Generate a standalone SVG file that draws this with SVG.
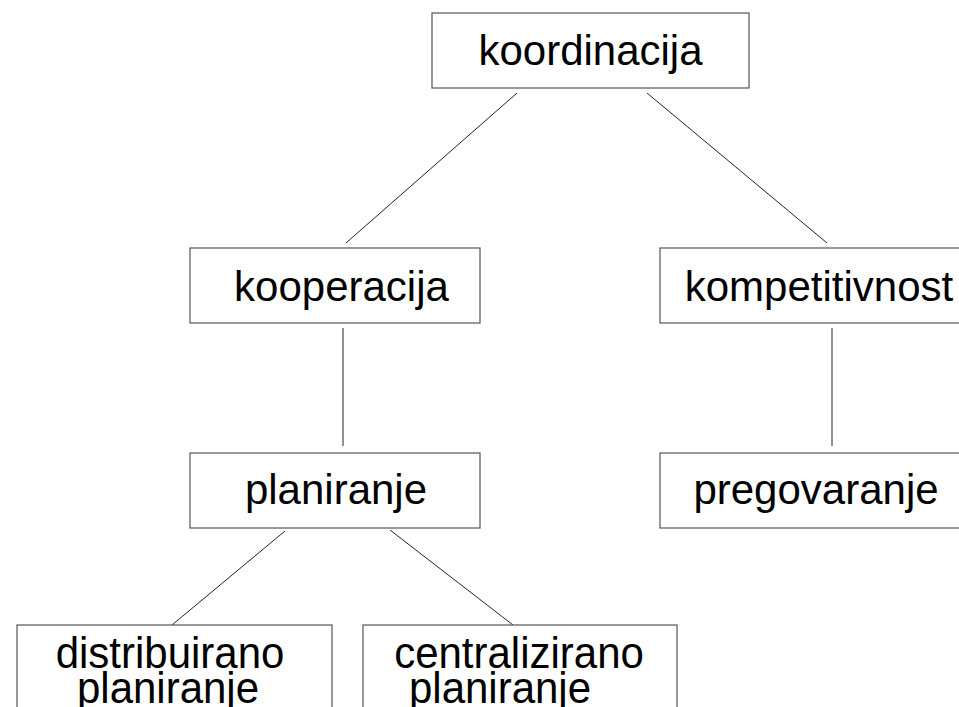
<svg xmlns="http://www.w3.org/2000/svg" width="959" height="707" viewBox="0 0 959 707">
<style>
.box{fill:#fff;stroke:#555;stroke-width:1.2}
.lbl{font-family:"Liberation Sans",Arial,sans-serif;font-size:42px;fill:#000;text-anchor:middle}
.edge{stroke:#222;stroke-width:1;fill:none}
</style>
<rect width="959" height="707" fill="#fff"/>
<g id="connectors">
<line class="edge" x1="517" y1="93" x2="346" y2="243"/>
<line class="edge" x1="647" y1="93" x2="827" y2="243"/>
<line class="edge" x1="343" y1="328" x2="343" y2="446"/>
<line class="edge" x1="832" y1="328" x2="832" y2="446"/>
<line class="edge" x1="285" y1="531" x2="172" y2="625"/>
<line class="edge" x1="390" y1="530" x2="513" y2="625"/>
</g>
<g id="koordinacija">
<rect class="box" x="432" y="13" width="317" height="75"/>
<text class="lbl" x="590.5" y="65">koordinacija</text>
</g>
<g id="kooperacija">
<rect class="box" x="190" y="248" width="290" height="75"/>
<text class="lbl" x="341.5" y="301">kooperacija</text>
</g>
<g id="kompetitivnost">
<rect class="box" x="660" y="248" width="330" height="75"/>
<text class="lbl" x="819" y="301">kompetitivnost</text>
</g>
<g id="planiranje">
<rect class="box" x="190" y="453" width="290" height="75"/>
<text class="lbl" x="336" y="504">planiranje</text>
</g>
<g id="pregovaranje">
<rect class="box" x="660" y="453" width="330" height="75"/>
<text class="lbl" x="816" y="504">pregovaranje</text>
</g>
<g id="distribuirano">
<rect class="box" x="17" y="625" width="315" height="100"/>
<text class="lbl" transform="translate(170,668) scale(1,1.05)">distribuirano</text>
<text class="lbl" transform="translate(168,703) scale(1,1.05)">planiranje</text>
</g>
<g id="centralizirano">
<rect class="box" x="363" y="625" width="314" height="100"/>
<text class="lbl" transform="translate(519,668) scale(1,1.05)">centralizirano</text>
<text class="lbl" transform="translate(500,703) scale(1,1.05)">planiranje</text>
</g>
</svg>
